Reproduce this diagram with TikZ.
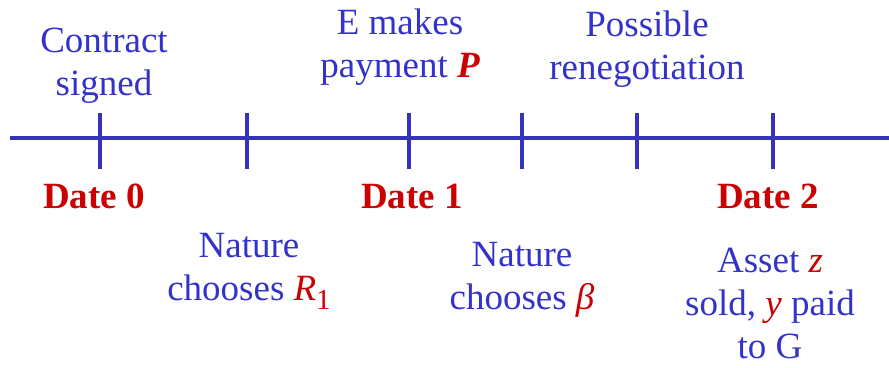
\documentclass[tikz,border=0pt]{standalone}
\usepackage{fontspec}
\setmainfont{Liberation Serif}
\definecolor{tblue}{RGB}{51,51,204}
\definecolor{lblue}{RGB}{51,51,187}
\definecolor{tred}{RGB}{204,0,0}
\newcommand\redit[1]{\textcolor{tred}{\itshape #1}}
\begin{document}
\begin{tikzpicture}[x=1pt,y=-1pt,
  lab/.style={text=tblue, font=\fontsize{37}{43}\selectfont, align=center, anchor=base, inner sep=0pt},
  datelab/.style={text=tred, font=\fontsize{37}{43}\selectfont\bfseries, anchor=base, inner sep=0pt},
  axisline/.style={draw=lblue, line width=4.5pt},
  tickline/.style={draw=lblue, line width=4pt}]
\useasboundingbox (0,0) rectangle (889,367);
% axis
\coordinate (L) at (10,138);
\coordinate (R) at (889,138);
\draw[axisline] (L) -- (R);
\foreach \n/\x in {0/100,1/247,2/409,3/522,4/637,5/773}{
  \coordinate (t\n a) at (\x,113);
  \coordinate (t\n b) at (\x,169);
  \draw[tickline] (t\n a) -- (t\n b);
}
% top labels (anchor = baseline of last line)
\node[lab] (contract) at (104,95) {Contract\\signed};
\node[lab] (pay) at (400,77) {E makes\\payment \textcolor{tred}{\bfseries\itshape P}};
\node[lab] (reneg) at (647,79) {Possible\\renegotiation};
% dates
\node[datelab] (d0) at (94,208) {Date 0};
\node[datelab] (d1) at (412,208) {Date 1};
\node[datelab] (d2) at (768,208) {Date 2};
% bottom labels
\node[lab] (natR) at (249,300) {Nature\\chooses \redit{R}\textcolor{tred}{\raisebox{-0.25em}{\fontsize{29}{29}\selectfont 1}}};
\node[lab] (natB) at (522,309) {Nature\\chooses \redit{β}};
\node[lab] (asset) at (770,358) {Asset \redit{z}\\sold, \redit{y} paid\\to G};
\end{tikzpicture}
\end{document}
